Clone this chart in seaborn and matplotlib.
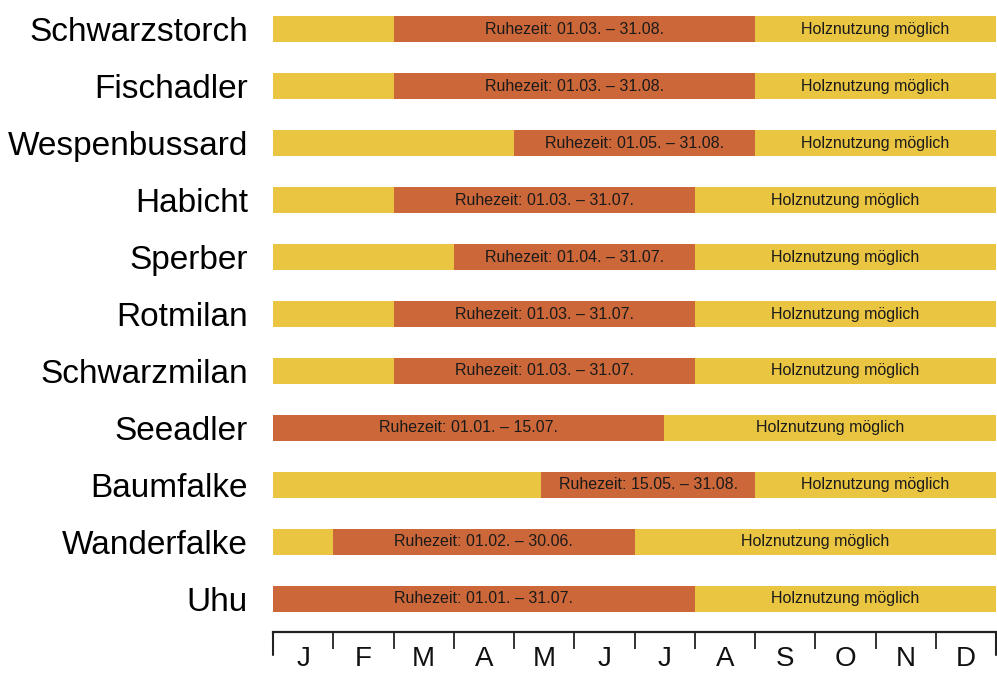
import matplotlib
matplotlib.use('Agg')
import matplotlib.pyplot as plt
import matplotlib.transforms as mtransforms
import pandas as pd
import seaborn as sns

species = ['Schwarzstorch', 'Fischadler', 'Wespenbussard', 'Habicht', 'Sperber', 'Rotmilan',
           'Schwarzmilan', 'Seeadler', 'Baumfalke', 'Wanderfalke', 'Uhu']
rest_start = ['01.03.', '01.03.', '01.05.', '01.03.', '01.04.', '01.03.',
              '01.03.', '01.01.', '15.05.', '01.02.', '01.01.']
rest_end = ['31.08.', '31.08.', '31.08.', '31.07.', '31.07.', '31.07.',
            '31.07.', '15.07.', '31.08.', '30.06.', '31.07.']
months = ['J', 'F', 'M', 'A', 'M', 'J', 'J', 'A', 'S', 'O', 'N', 'D']
days_in_month = [31, 28, 31, 30, 31, 30, 31, 31, 30, 31, 30, 31]

YELLOW = '#EAC542'
ORANGE = '#CB6739'


def to_pos(date, end=False):
    """Position of a date on a month scale (each month = 1 unit)"""
    d, m = [int(p) for p in date.strip('.').split('.')]
    if end:
        return (m - 1) + d / days_in_month[m - 1]
    return (m - 1) + (d - 1) / days_in_month[m - 1]


df = pd.DataFrame({'species': species, 'start': rest_start, 'end': rest_end})
df['x0'] = [to_pos(s) for s in df['start']]
df['x1'] = [to_pos(e, end=True) for e in df['end']]
df['year'] = len(months)

sns.set_style('white')
plt.rcParams['font.family'] = ['Liberation Sans', 'DejaVu Sans']

fig = plt.figure(figsize=(9.97, 6.78), dpi=100)
ax = fig.add_axes([273 / 997, 46 / 678, 723 / 997, 632 / 678])

bar_h = 0.46
sns.barplot(data=df, x='year', y='species', color=YELLOW, width=bar_h, saturation=1, ax=ax)
sns.barplot(data=df, x='x1', y='species', color=ORANGE, width=bar_h, saturation=1, ax=ax)
sns.barplot(data=df, x='x0', y='species', color=YELLOW, width=bar_h, saturation=1, ax=ax)
for p in ax.patches:
    p.set_linewidth(0)

for i, row in df.iterrows():
    ax.text((row['x0'] + row['x1']) / 2, i, f"Ruhezeit: {row['start']} – {row['end']}",
            ha='center', va='center', fontsize=11.5, color='#1a1a1a')
    ax.text((row['x1'] + row['year']) / 2, i, 'Holznutzung möglich',
            ha='center', va='center', fontsize=11.5, color='#1a1a1a')

ax.set_xlim(0, len(months))
ax.set_ylim(len(species) - 1 + 0.58, -0.51)
ax.set_xlabel('')
ax.set_ylabel('')

# species labels
ax.tick_params(axis='y', length=0, pad=18, labelsize=24, labelcolor='black')

# month letters centred, boundary ticks between months
ax.set_xticks([m + 0.5 for m in range(len(months))])
ax.set_xticklabels(months)
ax.set_xticks(range(len(months) + 1), minor=True)
ax.tick_params(axis='x', which='major', length=0, pad=10, labelsize=20, labelcolor='#111111')
ax.tick_params(axis='x', which='minor', bottom=True, length=12, width=1.3,
               color='#222222', direction='out')
trans = mtransforms.blended_transform_factory(ax.transData, ax.transAxes)
for xb in [0, len(months)]:
    ax.plot([xb, xb], [0, -0.036], transform=trans, color='#222222', lw=1.5, clip_on=False)

sns.despine(ax=ax, left=True, top=True, right=True)
ax.spines['bottom'].set_color('#222222')
ax.spines['bottom'].set_linewidth(1.6)

fig.savefig('out.png', dpi=100)
